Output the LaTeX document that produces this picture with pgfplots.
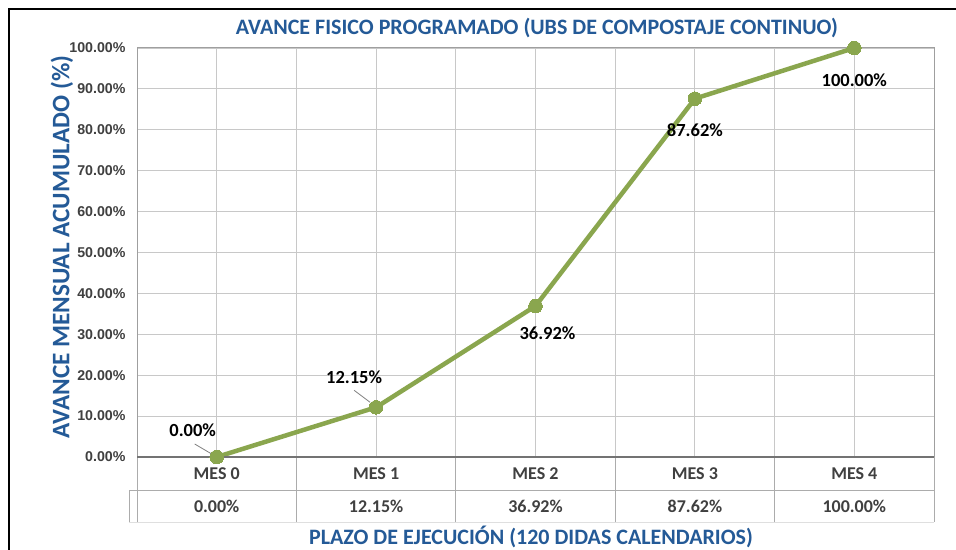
\documentclass[border=0pt]{standalone}
\usepackage{pgfplots}
\pgfplotsset{compat=1.18}
\usepackage{fontspec}
\setmainfont{Carlito}
\newfontfamily\arialfont{Liberation Sans}
\definecolor{tblue}{HTML}{245A97}
\definecolor{lgreen}{HTML}{8AA64E}
\definecolor{dgray}{HTML}{404040}
\definecolor{gridc}{HTML}{C8C8C8}
\begin{document}
\begin{tikzpicture}
\useasboundingbox (0,0) rectangle (956pt,549pt);
\fill[white] (0,0) rectangle (956pt,549pt);
\draw[black, line width=1.3pt] (9pt,-5pt) -- (9pt,540pt) -- (965pt,540pt);
\begin{axis}[at={(137pt,92pt)}, anchor=south west, scale only axis,
  width=797pt, height=409pt,
  xmin=-0.5, xmax=4.5, ymin=0, ymax=100,
  xtick={0,1,2,3,4}, xticklabels={}, minor xtick={-0.5,0.5,1.5,2.5,3.5,4.5},
  ytick={0,10,...,100},
  xmajorgrids, xminorgrids, ymajorgrids,
  grid style={gridc, line width=0.9pt}, minor grid style={gridc, line width=0.9pt},
  major tick length=0pt, minor tick length=0pt,
  axis line style={draw=gray!75, line width=1pt},
  /pgf/number format/assume math mode=true,
  yticklabel={\pgfmathprintnumber[fixed,fixed zerofill,precision=2]{\tick}\%},
  yticklabel style={font=\arialfont\bfseries\fontsize{14.2}{15}\selectfont, text=dgray, xshift=-8pt},
  clip=false,
]
\addplot[lgreen, line width=4.5pt, mark=*, mark size=6.8pt,
  mark options={fill=lgreen, draw=lgreen, line width=0pt}]
  coordinates {(0,0) (1,12.15) (2,36.92) (3,87.62) (4,100)};
% table lines
\draw[gray!65, line width=1pt] (axis cs:-0.5,0) -- ([yshift=-65pt]axis cs:-0.5,0);
\draw[gray!65, line width=1pt] (axis cs:0.5,0) -- ([yshift=-65pt]axis cs:0.5,0);
\draw[gray!65, line width=1pt] (axis cs:1.5,0) -- ([yshift=-65pt]axis cs:1.5,0);
\draw[gray!65, line width=1pt] (axis cs:2.5,0) -- ([yshift=-65pt]axis cs:2.5,0);
\draw[gray!65, line width=1pt] (axis cs:3.5,0) -- ([yshift=-65pt]axis cs:3.5,0);
\draw[gray!65, line width=1pt] (axis cs:4.5,0) -- ([yshift=-65pt]axis cs:4.5,0);
\draw[gray!65, line width=1pt] ([xshift=-8pt,yshift=-33pt]axis cs:-0.5,0) -- ([yshift=-33pt]axis cs:4.5,0);
\draw[gray!65, line width=1pt] ([xshift=-8pt,yshift=-33pt]axis cs:-0.5,0) -- ([xshift=-8pt,yshift=-65pt]axis cs:-0.5,0);
\draw[gray!25, line width=0.8pt] ([xshift=-8pt,yshift=-65pt]axis cs:-0.5,0) -- ([yshift=-65pt]axis cs:4.5,0);
\draw[gray!90!black, line width=1.6pt] (axis cs:-0.5,0) -- (axis cs:4.5,0);
% table text
\tikzset{tcell/.style={font=\bfseries\fontsize{18}{20}\selectfont, text=dgray}}
\node[tcell] at ([yshift=-17pt]axis cs:0,0) {MES 0};
\node[tcell] at ([yshift=-17pt]axis cs:1,0) {MES 1};
\node[tcell] at ([yshift=-17pt]axis cs:2,0) {MES 2};
\node[tcell] at ([yshift=-17pt]axis cs:3,0) {MES 3};
\node[tcell] at ([yshift=-17pt]axis cs:4,0) {MES 4};
\node[tcell] at ([yshift=-49pt]axis cs:0,0) {0.00\%};
\node[tcell] at ([yshift=-49pt]axis cs:1,0) {12.15\%};
\node[tcell] at ([yshift=-49pt]axis cs:2,0) {36.92\%};
\node[tcell] at ([yshift=-49pt]axis cs:3,0) {87.62\%};
\node[tcell] at ([yshift=-49pt]axis cs:4,0) {100.00\%};
% data labels
\tikzset{dlab/.style={font=\bfseries\fontsize{18.5}{20}\selectfont, text=black}}
\draw[gray, line width=0.8pt] ([xshift=-22pt,yshift=13pt]axis cs:0,0) -- ([xshift=-5pt,yshift=3pt]axis cs:0,0);
\node[dlab] at ([xshift=-24pt,yshift=27pt]axis cs:0,0) {0.00\%};
\draw[gray, line width=0.8pt] ([xshift=-22pt,yshift=17pt]axis cs:1,12.15) -- ([xshift=-6pt,yshift=5pt]axis cs:1,12.15);
\node[dlab] at ([xshift=-22pt,yshift=30pt]axis cs:1,12.15) {12.15\%};
\node[dlab] at ([xshift=12pt,yshift=-27pt]axis cs:2,36.92) {36.92\%};
\node[dlab] at ([xshift=0pt,yshift=-32pt]axis cs:3,87.62) {87.62\%};
\node[dlab] at ([xshift=0pt,yshift=-32pt]axis cs:4,100) {100.00\%};
\end{axis}
\node[font=\bfseries\fontsize{22}{26}\selectfont, text=tblue] at (537pt,521pt)
  {AVANCE FISICO PROGRAMADO (UBS DE COMPOSTAJE CONTINUO)};
\node[font=\bfseries\fontsize{22}{26}\selectfont, text=tblue] at (531pt,12pt)
  {PLAZO DE EJECUCIÓN (120 DIDAS CALENDARIOS)};
\node[font=\bfseries\fontsize{25.2}{28}\selectfont, text=tblue, rotate=90] at (62pt,302pt)
  {AVANCE MENSUAL ACUMULADO (\%)};
\end{tikzpicture}
\end{document}
